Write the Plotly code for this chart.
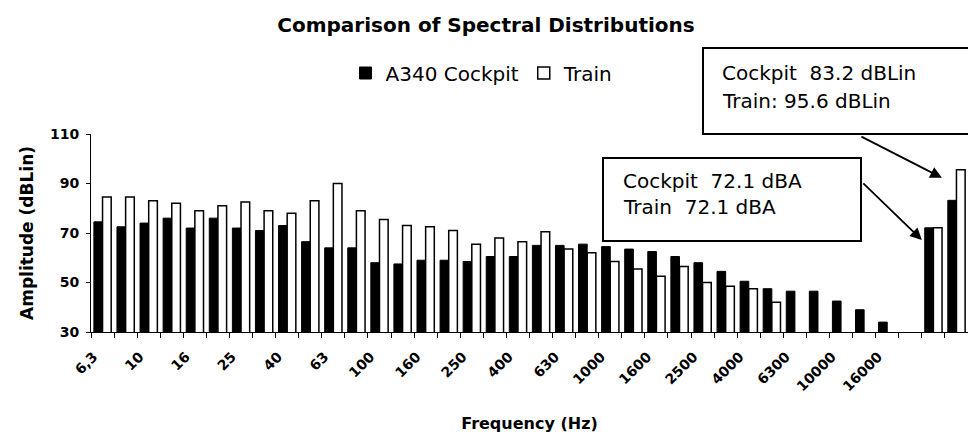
import plotly.graph_objects as go

# Third-octave band centre frequencies (Hz)
bands = ["6,3", "8", "10", "12,5", "16", "20", "25", "31,5", "40", "50",
         "63", "80", "100", "125", "160", "200", "250", "315", "400", "500",
         "630", "800", "1000", "1250", "1600", "2000", "2500", "3150", "4000",
         "5000", "6300", "8000", "10000", "12500", "16000"]

# Band levels, dB Lin
cockpit_db = [74.5, 72.5, 74, 76, 72, 76, 72, 71, 73, 66.5,
              64, 64, 58, 57.5, 59, 59, 58.5, 60.5, 60.5, 65,
              65, 65.5, 64.5, 63.5, 62.5, 60.5, 58, 54.5, 50.5,
              47.5, 46.5, 46.5, 42.5, 39, 34]
train_db = [84.5, 84.5, 83, 82, 79, 81, 82.5, 79, 78, 83,
            90, 79, 75.5, 73, 72.5, 71, 65.5, 68, 66.5, 70.5,
            63.5, 62, 58.5, 55.5, 52.5, 56.5, 50, 48.5, 47.5,
            42, None, None, None, None, None]

# Overall levels
overall = ["dBA", "dBLin"]
cockpit_overall = [72.1, 83.2]
train_overall = [72.1, 95.6]

n = len(bands)
x_pos = list(range(n)) + [n + 1 + i for i in range(len(overall))]
x_max = x_pos[-1]

FONT = "DejaVu Sans"

fig = go.Figure()
fig.add_bar(x=x_pos, y=cockpit_db + cockpit_overall, name="A340 Cockpit",
            marker=dict(color="black", line=dict(color="black", width=1)))
fig.add_bar(x=x_pos, y=train_db + train_overall, name="Train",
            marker=dict(color="white", line=dict(color="black", width=1.5)))

fig.update_layout(
    width=968, height=438,
    margin=dict(l=91, r=0, t=134, b=106),
    paper_bgcolor="white", plot_bgcolor="white",
    barmode="group", bargap=0.25, bargroupgap=0,
    font=dict(family=FONT, color="black"),
    title=dict(text="Comparison of Spectral Distributions",
               font=dict(family=FONT, size=20, weight="bold"),
               x=486 / 968, xref="container", xanchor="center",
               y=1 - 25 / 438, yref="container", yanchor="middle"),
    legend=dict(orientation="h", x=(482 - 91) / 877, xanchor="center",
                y=(332 - 73) / 198, yanchor="middle",
                font=dict(family=FONT, size=20), itemwidth=30,
                traceorder="normal", bgcolor="rgba(0,0,0,0)"),
    showlegend=True,
)

fig.update_xaxes(
    range=[-0.5, x_max + 0.5],
    tickmode="array", tickvals=list(range(0, n, 2)), ticktext=bands[0::2],
    tickangle=-45, ticks="",
    tickfont=dict(family=FONT, size=14, weight="bold"),
    ticklabelstandoff=10, ticklabelshift=-9,
    minor=dict(tickmode="array", tickvals=[i - 0.5 for i in range(x_max + 2)],
               ticks="outside", ticklen=5, tickcolor="black", tickwidth=1,
               showgrid=False),
    showline=True, linecolor="black", linewidth=1,
    showgrid=False, zeroline=False,
    title=dict(text="Frequency (Hz)", standoff=24,
               font=dict(family=FONT, size=16, weight="bold")),
)
fig.update_yaxes(
    range=[30, 110], tickmode="array", tickvals=[30, 50, 70, 90, 110],
    ticks="outside", ticklen=4, tickcolor="black",
    tickfont=dict(family=FONT, size=14, weight="bold"),
    ticklabelstandoff=4,
    showline=True, linecolor="black", linewidth=1,
    showgrid=False, zeroline=False,
    title=dict(text="Amplitude (dBLin)", standoff=12,
               font=dict(family=FONT, size=17, weight="bold")),
)

# Callout boxes for overall levels
def px_x(px):
    return (px - 91) / 877

def px_y(py):
    return (332 - py) / 198

boxes = [(703, 48, 1000, 134), (603, 158, 861, 241)]
for x0, y0, x1, y1 in boxes:
    fig.add_shape(type="rect", xref="paper", yref="paper",
                  x0=px_x(x0), x1=px_x(x1), y0=px_y(y1), y1=px_y(y0),
                  line=dict(color="black", width=2), fillcolor="white",
                  layer="above")

lin_lines = [f"Cockpit  {cockpit_overall[1]:.1f} dBLin",
             f"Train: {train_overall[1]:.1f} dBLin"]
a_lines = [f"Cockpit  {cockpit_overall[0]:.1f} dBA",
           f"Train  {train_overall[0]:.1f} dBA"]

for text, (lx, ly) in zip(lin_lines + a_lines,
                          [(720, 73), (720, 101), (621, 181), (621, 207)]):
    fig.add_annotation(text=text, xref="paper", yref="paper",
                       x=px_x(lx), y=px_y(ly), xanchor="left", yanchor="middle",
                       showarrow=False, font=dict(family=FONT, size=20))

# Arrows from the callouts to the overall bars
fig.add_annotation(x=x_max - 0.63, y=92.3, xref="x", yref="y", text="",
                   showarrow=True, axref="pixel", ayref="pixel", ax=-82, ay=-42,
                   arrowhead=2, arrowsize=1.3, arrowwidth=1.8, arrowcolor="black")
fig.add_annotation(x=x_max - 1.5, y=67.2, xref="x", yref="y", text="",
                   showarrow=True, axref="pixel", ayref="pixel", ax=-60, ay=-58,
                   arrowhead=2, arrowsize=1.3, arrowwidth=1.8, arrowcolor="black")

fig.write_html("out.html")
